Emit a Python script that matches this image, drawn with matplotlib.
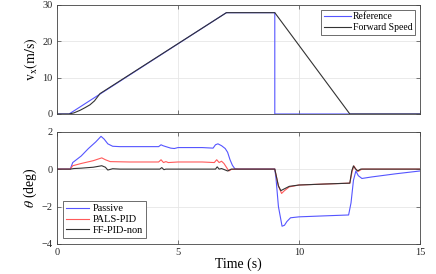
import numpy as np
import matplotlib
matplotlib.use("Agg")
import matplotlib.pyplot as plt

plt.rcParams['font.family'] = ['Liberation Serif', 'DejaVu Serif']
plt.rcParams['mathtext.fontset'] = 'stix'

# speed panel
t_ref = [0, 0.5, 7.0, 9.0, 9.0, 15]
v_ref = [0, 0, 27.8, 27.8, 0, 0]
t_spd = [0, 0.5, 0.7, 0.95, 1.15, 1.36, 1.55, 1.78, 7.0, 9.0, 12.1, 15]
v_spd = [0, 0, 0.3, 1.0, 1.7, 2.5, 3.6, 5.6, 27.8, 27.8, 0, 0]

# pitch panel
t_pas = [0, 0.55, 0.65, 0.8, 1.0, 1.3, 1.6, 1.82, 1.95, 2.1, 2.3, 2.6, 3.5, 4.2, 4.3, 4.38,
         4.5, 4.7, 4.85, 5.0, 5.5, 6.0, 6.45, 6.55, 6.65, 6.8, 6.95, 7.05, 7.15, 7.25, 7.35,
         7.5, 9.0, 9.05, 9.15, 9.3, 9.4, 9.5, 9.65, 10.0, 11.0, 12.05, 12.15, 12.25, 12.35,
         12.45, 12.6, 13.0, 14.0, 15.0]
th_pas = [0, 0, 0.35, 0.5, 0.7, 1.1, 1.45, 1.75, 1.6, 1.35, 1.22, 1.2, 1.2, 1.2, 1.3, 1.25,
          1.2, 1.12, 1.1, 1.15, 1.15, 1.15, 1.12, 1.3, 1.35, 1.25, 1.1, 0.9, 0.5, 0.2, 0.02,
          0, 0, -0.5, -2.0, -3.05, -3.0, -2.8, -2.6, -2.55, -2.5, -2.45, -1.8, -0.6, -0.1,
          -0.35, -0.5, -0.42, -0.25, -0.1]
t_pals = [0, 0.55, 0.65, 1.0, 1.5, 1.85, 2.0, 2.2, 3.0, 4.2, 4.3, 4.4, 4.5, 4.6, 5.0, 6.0,
          6.5, 6.6, 6.7, 6.8, 6.9, 7.0, 7.1, 7.2, 7.4, 9.0, 9.05, 9.15, 9.28, 9.4, 9.6, 10.0,
          11.0, 12.1, 12.2, 12.27, 12.35, 12.45, 12.6, 13, 15]
th_pals = [0, 0, 0.18, 0.3, 0.45, 0.6, 0.5, 0.4, 0.38, 0.38, 0.5, 0.35, 0.4, 0.35, 0.38, 0.38,
           0.35, 0.5, 0.35, 0.42, 0.3, 0.1, -0.1, -0.02, 0, 0, -0.3, -0.9, -1.3, -1.15, -0.95,
           -0.85, -0.8, -0.75, -0.1, 0.17, 0.0, -0.12, 0.0, 0, 0]
t_ff = [0, 0.55, 0.7, 1.0, 1.5, 1.85, 2.0, 2.1, 2.3, 2.6, 4.25, 4.33, 4.42, 4.5, 6.55, 6.62,
        6.7, 6.8, 6.9, 7.05, 7.2, 9.0, 9.05, 9.15, 9.25, 9.4, 9.6, 10, 11, 12.1, 12.18, 12.25,
        12.33, 12.42, 12.55, 15]
th_ff = [0, 0, 0.03, 0.05, 0.1, 0.18, 0.1, -0.05, 0.02, 0, 0, 0.08, -0.03, 0, 0, 0.12,
         0, 0.03, -0.02, -0.1, 0, 0, -0.3, -0.9, -1.15, -1.05, -0.92, -0.85, -0.8, -0.75, -0.1,
         0.17, 0.02, -0.1, 0, 0]

c_blue = '#5555ff'
c_red = '#ff5a5a'
c_blk = '#333333'
spine_c = '#444444'

fig = plt.figure(figsize=(4.36, 2.74), dpi=100)
ax1 = fig.add_axes([0.1307, 0.584, 0.8326, 0.399])
ax2 = fig.add_axes([0.1307, 0.1095, 0.8326, 0.41])


def style(ax):
    ax.set_xlim(0, 15)
    ax.set_xticks([0, 5, 10, 15])
    ax.grid(True, color='#e6e6e6', linewidth=0.6)
    ax.set_axisbelow(True)
    for s in ax.spines.values():
        s.set_color(spine_c)
        s.set_linewidth(0.6)
    ax.tick_params(direction='in', top=True, right=True, length=3, width=0.5,
                   color=spine_c, labelsize=7.5, labelcolor='#262626', pad=3)


ax1.plot(t_ref, v_ref, color=c_blue, lw=0.8, label='Reference')
ax1.plot(t_spd, v_spd, color=c_blk, lw=0.8, label='Forward Speed')
style(ax1)
ax1.set_ylim(0, 30)
ax1.set_yticks([0, 10, 20, 30])
ax1.tick_params(labelbottom=False)
ax1.set_ylabel(r'$\mathrm{v_x(m/s)}$', fontsize=10, labelpad=2)
leg1 = ax1.legend(loc='upper right', fontsize=7, frameon=True, fancybox=False,
                  framealpha=1, edgecolor='#555555', handlelength=2.7,
                  borderpad=0.3, labelspacing=0.2, handletextpad=0.2)
leg1.get_frame().set_linewidth(0.6)

ax2.plot(t_pas, th_pas, color=c_blue, lw=0.8, label='Passive')
ax2.plot(t_pals, th_pals, color=c_red, lw=0.8, label='PALS-PID')
ax2.plot(t_ff, th_ff, color=c_blk, lw=0.8, label='FF-PID-non')
style(ax2)
ax2.set_ylim(-4, 2)
ax2.set_yticks([-4, -2, 0, 2])
ax2.set_ylabel(r'$\theta$ (deg)', fontsize=10, labelpad=2)
ax2.set_xlabel('Time (s)', fontsize=10, labelpad=0)
leg2 = ax2.legend(loc='lower left', fontsize=7.5, frameon=True, fancybox=False,
                  framealpha=1, edgecolor='#555555', handlelength=2.2,
                  borderpad=0.3, labelspacing=0.15, handletextpad=0.3,
                  bbox_to_anchor=(0.003, 0.005))
leg2.get_frame().set_linewidth(0.6)

fig.savefig('out.png', dpi=100)
